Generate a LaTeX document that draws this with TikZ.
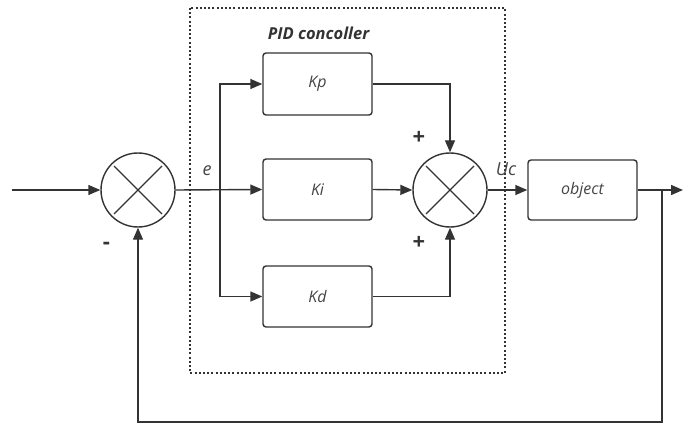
\documentclass[tikz,border=0pt]{standalone}
\usepackage{fontspec}
\setmainfont{Open Sans}
\usetikzlibrary{arrows.meta,calc}
\definecolor{ln}{HTML}{333333}
\definecolor{tx}{HTML}{444444}
\begin{document}
\begin{tikzpicture}[x=1pt,y=-1pt,
  line width=1.4pt, draw=ln,
  every node/.style={font=\fontsize{16}{18}\selectfont\itshape, text=tx},
  blk/.style={draw=ln, rounded corners=3pt, minimum width=109pt, inner sep=0pt},
  sumc/.style={draw=ln, circle, minimum size=74pt, inner sep=0pt},
  arr/.style={-{Triangle[length=12pt,width=10pt]}},
  sign/.style={font=\fontsize{22}{22}\selectfont\bfseries, text=ln, inner sep=0pt},
  lbl/.style={font=\fontsize{18}{20}\selectfont\itshape, text=tx, inner sep=0pt}]
\useasboundingbox (0,0) rectangle (683,425);
% dotted frame
\draw[ln, line width=1.3pt, dash pattern=on 2pt off 2.2pt] (190,8) rectangle (505,373);
\node[font=\fontsize{16.5}{18}\selectfont\bfseries\itshape, text=ln] (title) at (318.5,33) {PID concoller};
% nodes
\coordinate (in) at (12,190);
\node[sumc] (s1) at (138,190) {};
\node[sumc] (s2) at (450,190) {};
\node[blk, minimum height=62pt] (kp) at (317.5,84) {Kp};
\node[blk, minimum height=61pt] (ki) at (317.5,189.5) {Ki};
\node[blk, minimum height=61pt] (kd) at (317.5,296.5) {Kd};
\node[blk, minimum height=60pt] (obj) at (582.5,190) {object};
\coordinate (br) at (220,190);
\coordinate (out) at (683,190);
\coordinate (fb) at (662,190);
\coordinate (fbb) at (662,422);
% crosses
\foreach \s in {s1,s2}{
  \draw ($(\s)+(-24,-24)$) -- ($(\s)+(24,24)$);
  \draw ($(\s)+(24,-24)$) -- ($(\s)+(-24,24)$);
}
% connectors
\draw[arr] (in) -- (s1.west);
\draw[arr] (s1.east) -- (ki.west);
\draw[arr] (br) |- (kp.west);
\draw[arr] (br) |- (kd.west);
\draw[arr] (kp.east) -| (s2.north);
\draw[arr] (ki.east) -- (s2.west);
\draw[arr] (kd.east) -| (s2.south);
\draw[arr] (s2.east) -- (obj.west);
\draw[arr] (obj.east) -- (out);
\draw[arr] (fb) -- (fbb) -| (s1.south);
% labels
\node[lbl] (le) at (207,171) {e};
\node[lbl] (luc) at (506,169) {Uc};
\node[sign] (pl1) at (419,138) {+};
\node[sign] (pl2) at (419,243) {+};
\node[sign] (mi) at (106.5,246) {-};
\end{tikzpicture}
\end{document}
